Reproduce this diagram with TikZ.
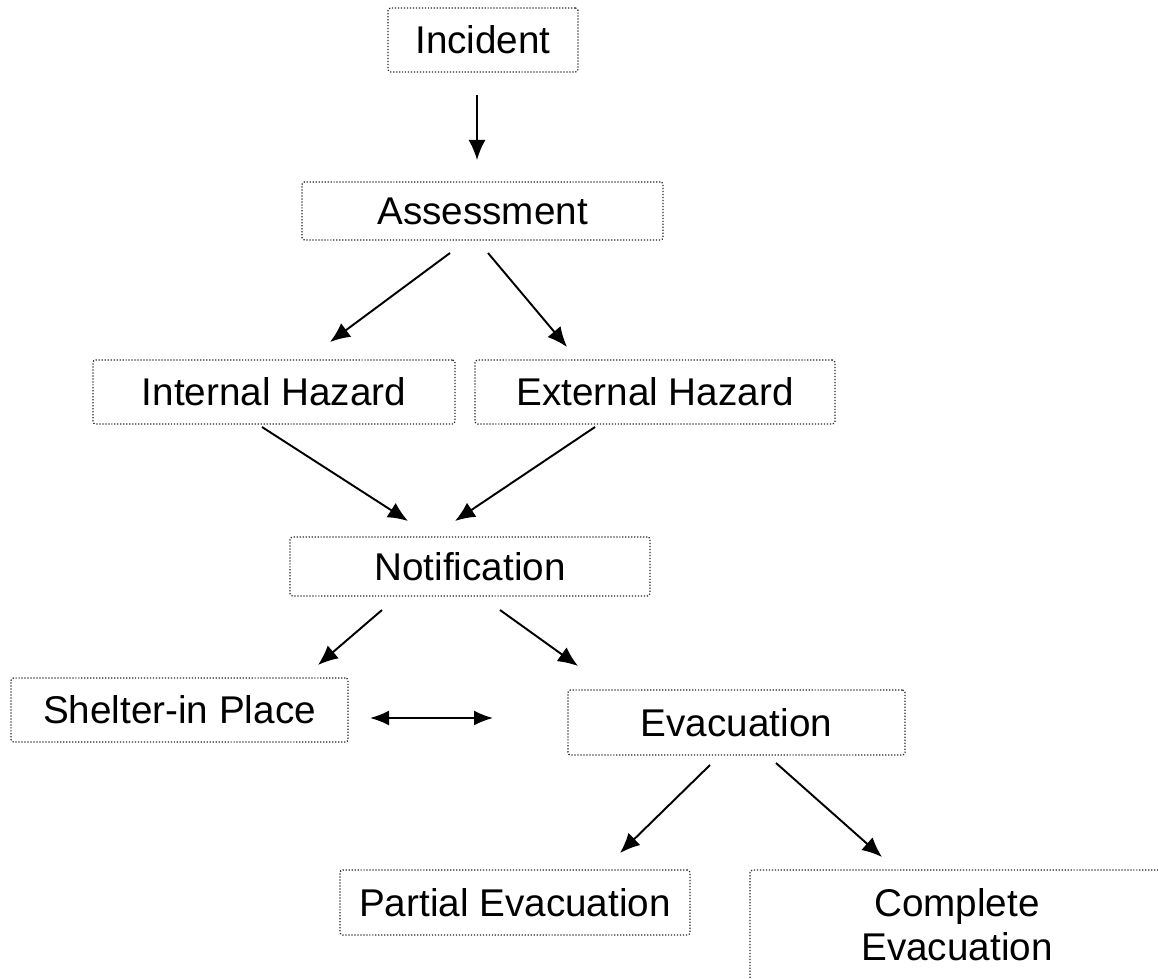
\documentclass[tikz,border=0pt]{standalone}
\usepackage{fontspec}
\setmainfont{Liberation Sans}
\usepackage{tikz}
\usetikzlibrary{arrows.meta}

\tikzset{
  box/.style={draw=black!85, line width=0.7pt, dash pattern=on 0.7pt off 1.0pt,
    rounded corners=1.5pt, inner sep=0pt, align=center,
    font=\fontsize{22}{25}\selectfont},
  flow/.style={line width=1.1pt, -{Latex[length=0.40cm,width=0.34cm]}},
  bothway/.style={line width=1.1pt, {Latex[length=0.38cm,width=0.30cm]}-{Latex[length=0.38cm,width=0.30cm]}}
}

\begin{document}
\begin{tikzpicture}
  \useasboundingbox (0,0) rectangle (23.16,-19.58);
  \clip (0,0) rectangle (23.16,-19.58);

  % boxes
  \node[box, minimum width=3.8cm, minimum height=1.28cm] (incident) at (9.66,-0.80) {Incident};
  \node[box, minimum width=7.22cm, minimum height=1.16cm] (assess) at (9.65,-4.22) {Assessment};
  \node[box, minimum width=7.24cm, minimum height=1.28cm] (internal) at (5.48,-7.84) {Internal Hazard};
  \node[box, minimum width=7.2cm, minimum height=1.28cm] (external) at (13.10,-7.84) {External Hazard};
  \node[box, minimum width=7.2cm, minimum height=1.18cm] (notify) at (9.40,-11.33) {Notification};
  \node[box, minimum width=6.74cm, minimum height=1.28cm] (shelter) at (3.59,-14.20) {Shelter-in Place};
  \node[box, minimum width=6.74cm, minimum height=1.30cm] (evac) at (14.73,-14.45) {Evacuation};
  \node[box, minimum width=7.0cm, minimum height=1.30cm] (partial) at (10.30,-18.05) {Partial Evacuation};
  \node[box, minimum width=8.28cm, minimum height=2.2cm] (complete) at (19.14,-18.50) {Complete\\Evacuation};

  % arrow ends
  \coordinate (inc-s) at (9.54,-1.90);   \coordinate (ass-n) at (9.54,-3.20);
  \coordinate (ass-sw) at (9.00,-5.06);  \coordinate (int-n) at (6.60,-6.84);
  \coordinate (ass-se) at (9.76,-5.06);  \coordinate (ext-n) at (11.34,-6.94);
  \coordinate (int-s) at (5.24,-8.54);   \coordinate (not-nw) at (8.16,-10.42);
  \coordinate (ext-s) at (11.90,-8.54);  \coordinate (not-ne) at (9.10,-10.42);
  \coordinate (not-sw) at (7.64,-12.20); \coordinate (shl-n) at (6.36,-13.30);
  \coordinate (not-se) at (10.00,-12.20);\coordinate (evc-n) at (11.56,-13.32);
  \coordinate (shl-e) at (7.40,-14.36);  \coordinate (evc-w) at (9.86,-14.36);
  \coordinate (evc-sw) at (14.20,-15.30);\coordinate (par-n) at (12.40,-17.06);
  \coordinate (evc-se) at (15.52,-15.26);\coordinate (cmp-n) at (17.64,-17.14);

  % arrows
  \draw[flow] (inc-s) -- (ass-n);
  \draw[flow] (ass-sw) -- (int-n);
  \draw[flow] (ass-se) -- (ext-n);
  \draw[flow] (int-s) -- (not-nw);
  \draw[flow] (ext-s) -- (not-ne);
  \draw[flow] (not-sw) -- (shl-n);
  \draw[flow] (not-se) -- (evc-n);
  \draw[bothway] (shl-e) -- (evc-w);
  \draw[flow] (evc-sw) -- (par-n);
  \draw[flow] (evc-se) -- (cmp-n);
\end{tikzpicture}
\end{document}
